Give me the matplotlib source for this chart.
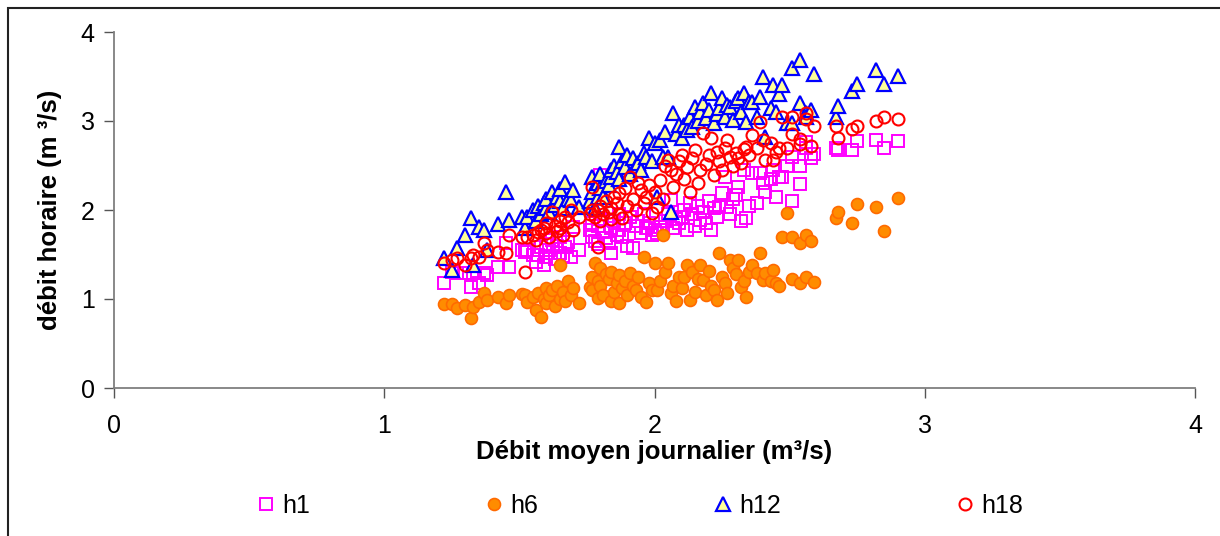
import matplotlib
matplotlib.use('Agg')
import matplotlib.pyplot as plt
from matplotlib.patches import Rectangle

plt.rcParams['font.family'] = ['Liberation Sans', 'DejaVu Sans']

# daily mean flow (x) and hourly flows at 1h, 6h, 12h, 18h
debit_moyen = [1.22, 1.25, 1.27, 1.30, 1.32, 1.33, 1.35, 1.37, 1.38, 1.42, 1.45, 1.46, 1.51, 1.52,
               1.53, 1.55, 1.56, 1.57, 1.58, 1.59, 1.60, 1.60, 1.61, 1.62, 1.63, 1.64, 1.65, 1.65, 1.66, 1.67, 1.68, 1.69, 1.70, 1.72,
               1.76, 1.77, 1.77, 1.78, 1.79, 1.79, 1.80, 1.80, 1.81, 1.82, 1.83, 1.84, 1.84, 1.85, 1.86, 1.87, 1.87, 1.88, 1.89, 1.90,
               1.91, 1.92, 1.93, 1.94, 1.95, 1.96, 1.97, 1.98, 1.99, 2.00,
               2.01, 2.02, 2.03, 2.04, 2.05, 2.06, 2.07, 2.08, 2.09, 2.10, 2.11, 2.12, 2.13, 2.14, 2.15, 2.16, 2.17, 2.18, 2.19, 2.20,
               2.21, 2.22, 2.23, 2.24, 2.25, 2.26, 2.27, 2.28, 2.29, 2.30, 2.31, 2.32, 2.33, 2.34, 2.35,
               2.36, 2.38, 2.39, 2.40, 2.41, 2.43, 2.44, 2.45, 2.46,
               2.47, 2.49, 2.51, 2.51, 2.54, 2.54, 2.56, 2.56, 2.58, 2.59,
               2.67, 2.68, 2.73, 2.75, 2.82, 2.85, 2.90]

h1 = [1.18, 1.30, 1.29, 1.29, 1.13, 1.29, 1.18, 1.29, 1.27, 1.36, 1.63, 1.36, 1.55, 1.53,
      1.55, 1.49, 1.42, 1.50, 1.58, 1.38, 1.62, 1.47, 1.55, 1.66, 1.45, 1.60, 1.52, 1.70, 1.48, 1.58, 1.64, 1.47, 1.81, 1.55,
      1.78, 1.70, 1.85, 1.65, 1.82, 1.62, 2.39, 1.90, 1.75, 1.68, 1.63, 1.52, 1.80, 1.88, 1.72, 1.78, 1.95, 1.70, 1.85, 1.60,
      1.92, 1.57, 1.82, 1.88, 1.74, 1.95, 1.80, 1.85, 1.72, 1.78,
      1.74, 1.81, 1.78, 1.88, 1.95, 2.11, 1.80, 1.90, 1.85, 1.92, 2.00, 1.78, 2.08, 1.95, 1.82, 2.05, 1.89, 1.98, 1.85, 2.10,
      1.78, 2.02, 1.92, 2.03, 2.19, 2.37, 2.03, 1.95, 2.12, 2.17, 2.26, 1.88, 2.45, 1.91, 2.05,
      2.42, 2.08, 2.42, 2.30, 2.20, 2.35, 2.45, 2.15, 2.37,
      2.37, 2.50, 2.10, 2.60, 2.29, 2.49, 2.70, 2.76, 2.58, 2.63,
      2.70, 2.67, 2.67, 2.78, 2.79, 2.70, 2.78]

h6 = [0.94, 0.94, 0.90, 0.93, 0.79, 0.91, 0.97, 1.07, 0.99, 1.02, 0.96, 1.04, 1.06, 1.04,
      0.97, 1.02, 0.88, 1.07, 0.80, 1.00, 1.12, 0.95, 1.05, 1.10, 0.92, 1.15, 1.00, 1.38, 1.08, 0.98, 1.20, 1.05, 1.12, 0.95,
      1.13, 1.25, 1.10, 1.40, 1.01, 1.20, 1.35, 1.15, 1.05, 1.28, 1.22, 0.98, 1.30, 1.08, 1.18, 1.27, 0.96, 1.12, 1.20, 1.05,
      1.29, 1.15, 1.10, 1.25, 1.02, 1.47, 0.97, 1.18, 1.10, 1.40,
      1.10, 1.20, 1.72, 1.30, 1.40, 1.07, 1.15, 0.98, 1.25, 1.12, 1.25, 1.38, 0.99, 1.30, 1.08, 1.22, 1.38, 1.21, 1.05, 1.32,
      1.15, 1.10, 0.99, 1.52, 1.25, 1.18, 1.07, 1.44, 1.35, 1.28, 1.44, 1.13, 1.20, 1.02, 1.30,
      1.38, 1.29, 1.52, 1.21, 1.29, 1.20, 1.33, 1.18, 1.15,
      1.70, 1.97, 1.70, 1.22, 1.63, 1.18, 1.72, 1.25, 1.65, 1.19,
      1.91, 1.98, 1.85, 2.07, 2.03, 1.76, 2.13]

h12 = [1.46, 1.33, 1.57, 1.72, 1.91, 1.38, 1.81, 1.78, 1.55, 1.84, 2.20, 1.89, 1.92, 1.80,
       1.92, 2.00, 1.88, 2.05, 1.95, 2.08, 2.02, 2.12, 1.98, 2.20, 2.06, 2.15, 2.10, 2.24, 2.02, 2.31, 2.12, 2.11, 2.22, 2.03,
       2.10, 2.20, 2.37, 2.02, 2.15, 2.30, 2.25, 2.40, 2.15, 2.33, 2.28, 2.37, 2.45, 2.50, 2.43, 2.71, 2.35, 2.55, 2.48, 2.62,
       2.40, 2.58, 2.50, 2.53, 2.45, 2.64, 2.60, 2.81, 2.55, 2.75,
       2.15, 2.79, 2.60, 2.88, 2.60, 1.98, 3.09, 2.85, 2.95, 2.81, 2.96, 2.90, 3.05, 2.93, 3.16, 3.00, 3.10, 3.20, 3.03, 3.12,
       3.31, 2.98, 3.08, 3.15, 3.26, 3.05, 3.18, 3.16, 3.01, 3.22, 3.26, 3.10, 3.31, 2.99, 3.21,
       3.21, 3.05, 3.27, 3.49, 2.82, 3.15, 3.40, 3.10, 3.30,
       3.40, 2.98, 3.60, 2.98, 3.69, 3.20, 3.09, 3.05, 3.12, 3.53,
       3.04, 3.17, 3.34, 3.42, 3.57, 3.42, 3.51]

h18 = [1.40, 1.44, 1.46, 1.38, 1.46, 1.49, 1.47, 1.63, 1.55, 1.53, 1.52, 1.72, 1.70, 1.30,
       1.70, 1.72, 1.66, 1.75, 1.78, 1.80, 1.74, 1.85, 1.70, 1.98, 1.82, 1.76, 1.88, 1.80, 1.72, 1.92, 1.86, 2.00, 1.78, 1.92,
       1.95, 2.26, 2.00, 1.92, 1.58, 2.00, 2.05, 1.88, 1.95, 2.10, 1.98, 2.02, 1.90, 2.15, 2.08, 2.19, 1.96, 1.91, 2.25, 2.05,
       2.37, 2.12, 2.00, 2.30, 2.22, 2.08, 2.15, 2.28, 1.97, 2.20,
       2.03, 2.34, 2.12, 2.50, 2.56, 2.45, 2.26, 2.40, 2.55, 2.62, 2.35, 2.48, 2.20, 2.58, 2.67, 2.30, 2.45, 2.87, 2.52, 2.62,
       2.81, 2.39, 2.65, 2.55, 2.45, 2.70, 2.79, 2.60, 2.50, 2.64, 2.58, 2.53, 2.68, 2.71, 2.62,
       2.84, 2.70, 2.99, 2.79, 2.56, 2.75, 2.56, 2.65, 2.70,
       3.04, 2.70, 2.85, 3.04, 2.74, 2.80, 3.09, 3.02, 2.72, 2.94,
       2.94, 2.81, 2.91, 2.94, 3.00, 3.04, 3.02]

series_names = ['h1', 'h6', 'h12', 'h18']
legend_x = [266, 494, 723, 965]  # legend marker centres (px)

fig = plt.figure(figsize=(12.2, 5.36), dpi=100)
ax = fig.add_axes([114/1220, 1 - 388/536, (1195 - 114)/1220, (388 - 32)/536])

l1, = ax.plot(debit_moyen, h1, linestyle='none', marker='s', ms=8, mfc='none', mec='#FF00FF', mew=1.4)
l6, = ax.plot(debit_moyen, h6, linestyle='none', marker='o', ms=8.6, mfc='#FF8C00', mec='#FF6A00', mew=1.2)
l12, = ax.plot(debit_moyen, h12, linestyle='none', marker='^', ms=9.5, mfc='#FFFF99', mec='#0000FF', mew=1.6)
l18, = ax.plot(debit_moyen, h18, linestyle='none', marker='o', ms=8.6, mfc='none', mec='#FF0000', mew=1.5)

ax.set_xlim(0, 4)
ax.set_ylim(0, 4)
ax.set_xticks([0, 1, 2, 3, 4])
ax.set_yticks([0, 1, 2, 3, 4])
for s in ['top', 'right']:
    ax.spines[s].set_visible(False)
for s in ['left', 'bottom']:
    ax.spines[s].set_color('#7f7f7f')
    ax.spines[s].set_linewidth(1.3)
ax.tick_params(direction='out', length=7, width=1, color='#555555', labelsize=18)
ax.tick_params(axis='x', pad=12)
ax.tick_params(axis='y', pad=7)

ax.set_xlabel('Débit moyen journalier (m³/s)', fontsize=18.5, fontweight='bold', labelpad=1)
ax.set_ylabel('débit horaire (m ³/s)', fontsize=18.5, fontweight='bold', labelpad=13)

for line, name, lx in zip([l1, l6, l12, l18], series_names, legend_x):
    fig.legend(handles=[line], labels=[name], loc='center left',
               bbox_to_anchor=((lx - 10)/1220, 1 - 506/536), frameon=False, fontsize=18,
               handlelength=0.8, handletextpad=0.25, borderpad=0, borderaxespad=0)

# outer chart border
fig.patches.append(Rectangle((8/1220, -0.2), 1.2, 1.2 - 8/536, transform=fig.transFigure,
                             fill=False, edgecolor='#222222', linewidth=1.5))

fig.savefig('out.png', dpi=100)
